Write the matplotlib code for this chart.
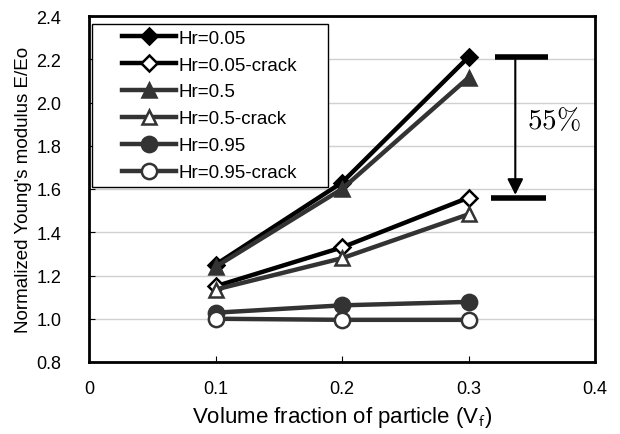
import matplotlib
matplotlib.use("Agg")
import matplotlib.pyplot as plt
from matplotlib.legend_handler import HandlerLine2D
from matplotlib.lines import Line2D

# volume fraction of particle
vf = [0.1, 0.2, 0.3]

labels = ["Hr=0.05", "Hr=0.05-crack", "Hr=0.5", "Hr=0.5-crack", "Hr=0.95", "Hr=0.95-crack"]
hr005 = [1.25, 1.63, 2.21]
hr005_crack = [1.15, 1.33, 1.56]
hr05 = [1.24, 1.60, 2.115]
hr05_crack = [1.135, 1.28, 1.483]
hr095 = [1.028, 1.062, 1.078]
hr095_crack = [1.0, 0.995, 0.995]

series = [hr005, hr005_crack, hr05, hr05_crack, hr095, hr095_crack]
markers = ["D", "D", "^", "^", "o", "o"]
colors = ["#000000", "#000000", "#333333", "#333333", "#333333", "#333333"]
filled = [True, False, True, False, True, False]
msizes = [8, 8, 10, 10, 11, 11]

# 55% annotation: the gap between Hr=0.05 and its cracked case at Vf=0.3
gap_top = hr005[-1]
gap_bot = hr005_crack[-1]

plt.rcParams['font.family'] = ['Liberation Sans', 'DejaVu Sans']
plt.rcParams['mathtext.fontset'] = 'cm'

fig = plt.figure(figsize=(6.2, 4.35), dpi=100)
ax = fig.add_axes([89 / 620, 1 - 363 / 435, (595 - 89) / 620, (363 - 17) / 435])

for y, lab, m, c, f, ms in zip(series, labels, markers, colors, filled, msizes):
    ax.plot(vf, y, color=c, lw=3.2, marker=m, markersize=ms,
            markerfacecolor=c if f else "white", markeredgecolor=c,
            markeredgewidth=1.8, label=lab)

ax.set_xlim(0, 0.4)
ax.set_ylim(0.8, 2.4)
ax.set_xticks([0, 0.1, 0.2, 0.3, 0.4])
ax.set_xticklabels(["0", "0.1", "0.2", "0.3", "0.4"])
ax.set_yticks([0.8, 1.0, 1.2, 1.4, 1.6, 1.8, 2.0, 2.2, 2.4])
ax.set_yticklabels(["0.8", "1.0", "1.2", "1.4", "1.6", "1.8", "2.0", "2.2", "2.4"])
ax.yaxis.grid(True, color="#d0d0d0", lw=1)
ax.set_axisbelow(True)
ax.tick_params(axis="y", direction="in", length=4, labelsize=13, pad=20)
ax.tick_params(axis="x", direction="in", length=4, labelsize=13, pad=13)
for s in ax.spines.values():
    s.set_linewidth(2)

ax.set_xlabel("Volume fraction of particle (V$_{\\mathsf{f}}$)", fontsize=16, labelpad=5)
ax.set_ylabel("Normalized Young's modulus E/Eo", fontsize=13.5, labelpad=3)

# bars and arrow
ax.plot([0.321, 0.363], [gap_top, gap_top], color="black", lw=4, solid_capstyle="butt")
ax.plot([0.318, 0.361], [gap_bot, gap_bot], color="black", lw=4, solid_capstyle="butt")
ax.annotate("", xy=(0.337, gap_bot), xytext=(0.337, gap_top),
            arrowprops=dict(arrowstyle="-|>", color="black", lw=1.5, mutation_scale=24))
ax.text(0.346, 1.92, "$55\\%$", fontsize=21, va="center", ha="left")

leg = ax.legend(loc="upper left", bbox_to_anchor=(0.006, 0.2, 0.466, 0.777), mode="expand",
                fontsize=13.5, frameon=True, fancybox=False, edgecolor="black", framealpha=1,
                handlelength=4.2, handletextpad=0.1, labelspacing=0.52,
                borderpad=0.3, borderaxespad=0,
                handler_map={Line2D: HandlerLine2D(xpad=1.3)})
leg.get_frame().set_linewidth(1)

fig.savefig("out.png", dpi=100)
